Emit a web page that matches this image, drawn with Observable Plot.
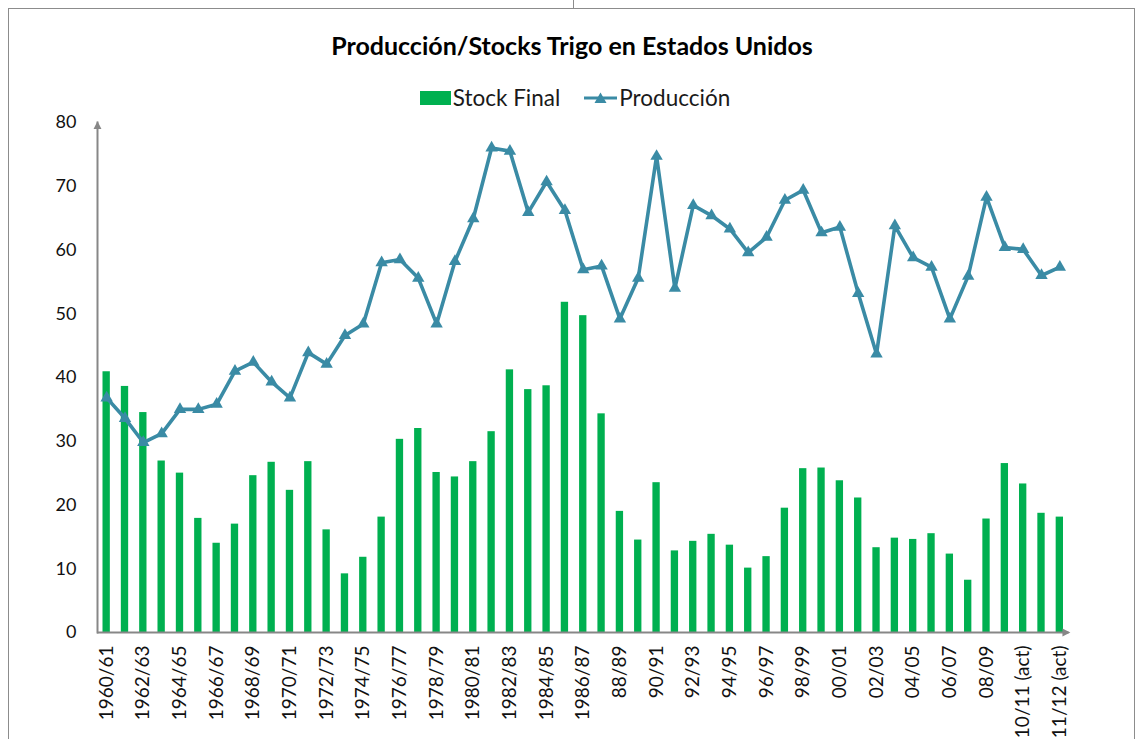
<!DOCTYPE html>
<html><head><meta charset="utf-8">
<script src="https://cdn.jsdelivr.net/npm/d3@7"></script>
<script src="https://cdn.jsdelivr.net/npm/@observablehq/plot@0.6"></script>
<style>
body{margin:0;background:#fff;font-family:Lato,sans-serif;}
#wrap{position:relative;width:1142px;height:739px;overflow:hidden;background:#fff;}
#border{position:absolute;left:8px;top:8px;width:1127px;height:800px;border:1px solid #8c8c8c;box-sizing:border-box;}
#notch{position:absolute;left:573px;top:0;width:1px;height:8px;background:#8c8c8c;}
#chart{position:absolute;left:0;top:0;}
#title{position:absolute;left:0;width:1144px;top:30px;text-align:center;font-weight:bold;font-size:25px;line-height:1.2;color:#000;white-space:nowrap;}
#legend{position:absolute;left:0;width:1150px;top:84px;display:flex;justify-content:center;align-items:center;font-size:22.5px;line-height:1.2;color:#1a1a1a;white-space:nowrap;}
#legend .item{display:flex;align-items:center;}
#legend .item:first-child{margin-right:24px;}
#legend svg{margin-right:2px;}
</style></head>
<body>
<div id="wrap">
  <div id="notch"></div>
  <div id="border"></div>
  <div id="chart"></div>
  <div id="title">Producción/Stocks Trigo en Estados Unidos</div>
  <div id="legend"></div>
</div>
<script>
const categories = [
  "1960/61","1961/62","1962/63","1963/64","1964/65","1965/66","1966/67","1967/68","1968/69","1969/70",
  "1970/71","1971/72","1972/73","1973/74","1974/75","1975/76","1976/77","1977/78","1978/79","1979/80",
  "1980/81","1981/82","1982/83","1983/84","1984/85","1985/86","1986/87",
  "87/88","88/89","89/90","90/91","91/92","92/93","93/94","94/95","95/96","96/97","97/98","98/99","99/00",
  "00/01","01/02","02/03","03/04","04/05","05/06","06/07","07/08","08/09","09/10",
  "10/11 (act)","11/12 (ant)","11/12 (act)"
];
const stockFinal = [40.9, 38.6, 34.5, 26.9, 25.0, 17.9, 14.0, 17.0, 24.6, 26.7,
  22.3, 26.8, 16.1, 9.2, 11.8, 18.1, 30.3, 32.0, 25.1, 24.4,
  26.8, 31.5, 41.2, 38.1, 38.7, 51.8, 49.7,
  34.3, 19.0, 14.5, 23.5, 12.8, 14.3, 15.4, 13.7, 10.1, 11.9, 19.5, 25.7, 25.8,
  23.8, 21.1, 13.3, 14.8, 14.6, 15.5, 12.3, 8.2, 17.8, 26.5,
  23.3, 18.7, 18.1];
const produccion = [36.8, 33.6, 29.8, 31.2, 35.0, 35.0, 35.8, 41.0, 42.4, 39.3,
  36.8, 43.9, 42.1, 46.6, 48.4, 58.0, 58.5, 55.6, 48.4, 58.2,
  64.9, 76.0, 75.5, 65.9, 70.7, 66.2, 56.9,
  57.5, 49.2, 55.6, 74.7, 54.0, 67.0, 65.4, 63.3, 59.6, 62.0, 67.8, 69.4, 62.7,
  63.6, 53.2, 43.7, 63.8, 58.8, 57.3, 49.2, 55.9, 68.3, 60.4,
  60.1, 56.0, 57.3];
const yTicks = [0, 10, 20, 30, 40, 50, 60, 70, 80];
const xTickLabels = categories.filter((d, i) => i % 2 === 0);
const seriesNames = ["Stock Final", "Producción"];

const green = "#00B050", teal = "#3A8BA5", axisGray = "#878787";
const data = categories.map((c, i) => ({cat: c, stock: stockFinal[i], prod: produccion[i]}));

const arrowRight = {draw(ctx, size) {
  const s = Math.sqrt(size / 0.8);
  ctx.moveTo(s * 0.55, 0); ctx.lineTo(-s * 0.45, -s * 0.5); ctx.lineTo(-s * 0.45, s * 0.5); ctx.closePath();
}};
const arrowUp = {draw(ctx, size) {
  const s = Math.sqrt(size / 0.8);
  ctx.moveTo(0, -s * 0.55); ctx.lineTo(-s * 0.5, s * 0.45); ctx.lineTo(s * 0.5, s * 0.45); ctx.closePath();
}};

const chart = Plot.plot({
  width: 1142, height: 739,
  marginLeft: 97, marginRight: 73.5, marginTop: 122, marginBottom: 107,
  style: {background: "transparent", fontFamily: "Lato, sans-serif", color: "#111"},
  x: {domain: categories, paddingInner: 0.6, paddingOuter: 0.3, align: 0.5, round: false, label: null},
  y: {domain: [0, 80], label: null},
  marks: [
    Plot.barY(data, {x: "cat", y: "stock", fill: green}),
    Plot.ruleY([0], {stroke: axisGray, strokeWidth: 2}),
    Plot.frame({anchor: "left", stroke: axisGray, strokeWidth: 2}),
    Plot.dot([0], {frameAnchor: "top-left", symbol: arrowUp, fill: axisGray, r: 4, dy: 3}),
    Plot.dot([0], {frameAnchor: "bottom-right", symbol: arrowRight, fill: axisGray, r: 4, dx: -3}),
    Plot.axisY({ticks: yTicks, tickSize: 0, tickPadding: 21, fontSize: 18, label: null}),
    Plot.axisX({ticks: xTickLabels, tickSize: 0, tickRotate: -90, tickPadding: 13, fontSize: 19, label: null}),
    Plot.line(data, {x: "cat", y: "prod", stroke: teal, strokeWidth: 3.6}),
    Plot.dot(data, {x: "cat", y: "prod", symbol: "triangle", fill: teal, r: 4.6})
  ]
});
document.getElementById("chart").appendChild(chart);

const legend = document.getElementById("legend");
legend.innerHTML =
  `<div class="item"><svg width="31" height="16"><rect x="0" y="1" width="31" height="14" fill="${green}"/></svg><span>${seriesNames[0]}</span></div>` +
  `<div class="item"><svg width="33" height="16"><line x1="0" y1="8" x2="33" y2="8" stroke="${teal}" stroke-width="3"/><path transform="translate(16.5,8.5)" d="M0,-6L6,4.5L-6,4.5Z" fill="${teal}"/></svg><span>${seriesNames[1]}</span></div>`;
</script>
</body></html>
